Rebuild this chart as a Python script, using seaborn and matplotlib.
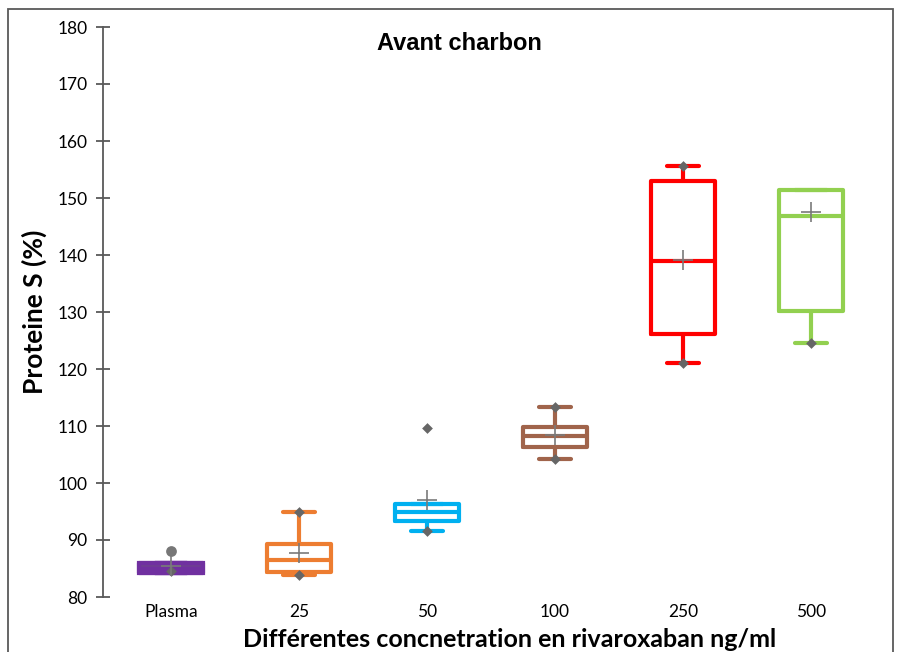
import seaborn as sns
import matplotlib.pyplot as plt
import pandas as pd
from matplotlib.patches import Rectangle

# five-number summaries (min, q1, median, q3, max)
categories = ['Plasma', '25', '50', '100', '250', '500']
box_plasma = [84.2, 84.2, 85.0, 86.0, 86.0]
box_25 = [83.9, 84.4, 86.5, 89.3, 94.9]
box_50 = [91.5, 93.4, 94.9, 96.3, 96.3]
box_100 = [104.2, 106.4, 108.2, 109.9, 113.3]
box_250 = [121.0, 126.1, 138.9, 153.0, 155.7]
box_500 = [124.6, 130.2, 146.9, 151.4, 151.4]

means = [85.4, 87.8, 97.0, 108.4, 139.2, 147.5]

# gray diamond points shown on the chart
point_cat = ['Plasma', '25', '25', '50', '50', '100', '100', '250', '250', '500']
point_val = [84.6, 94.9, 83.9, 91.5, 109.6, 113.3, 104.2, 155.7, 121.0, 124.6]
circle_cat = ['Plasma']
circle_val = [88.0]

colors = ['#7030A0', '#ED7D31', '#00B0F0', '#A0644B', '#FF0000', '#92D050']

boxes = [box_plasma, box_25, box_50, box_100, box_250, box_500]
df = pd.DataFrame({
    'cat': [c for c, b in zip(categories, boxes) for _ in b],
    'val': [v for b in boxes for v in b],
})

sns.set_style('white')
plt.rcParams['font.family'] = ['Lato', 'DejaVu Sans']
plt.rcParams['text.color'] = 'black'
plt.rcParams['axes.labelcolor'] = 'black'
plt.rcParams['xtick.color'] = 'black'
plt.rcParams['ytick.color'] = 'black'

fig = plt.figure(figsize=(8.99, 6.52), dpi=100)
ax = fig.add_axes([103 / 899, 55 / 652, 772 / 899, 570 / 652])

sns.boxplot(data=df, x='cat', y='val', hue='cat', order=categories,
            palette=colors, fill=False, linewidth=3, width=0.5, gap=0,
            whis=(0, 100), showfliers=False, legend=False, ax=ax)
# plasma box is so small it reads as a solid block
sns.boxplot(data=df[df['cat'] == 'Plasma'], x='cat', y='val', order=categories,
            color=colors[0], linecolor=colors[0], fill=True, linewidth=3,
            width=0.5, whis=(0, 100), showfliers=False, ax=ax)

sns.scatterplot(x=point_cat, y=point_val, marker='D', color='#666666',
                s=30, linewidth=0, zorder=5, ax=ax)
sns.scatterplot(x=circle_cat, y=circle_val, marker='o', color='#777777',
                s=60, linewidth=0, zorder=5, ax=ax)
sns.scatterplot(x=categories, y=means, marker='+', color='#7a7a7a',
                s=220, linewidth=1.2, zorder=6, ax=ax)

ax.set_ylim(80, 180)
ax.set_xlim(-0.53, 5.5)
ax.set_yticks(range(80, 181, 10))
for s in ['top', 'right', 'bottom']:
    ax.spines[s].set_visible(False)
ax.spines['left'].set_color('#595959')
ax.spines['left'].set_linewidth(1.3)
ax.tick_params(axis='y', direction='inout', length=10, width=1.3,
               color='#595959', labelcolor='black', labelsize=12.5, pad=6,
               left=True)
ax.tick_params(axis='x', length=0, labelsize=12.5, pad=5, labelcolor='black')

ax.set_xlabel('Différentes concnetration en rivaroxaban ng/ml',
              fontsize=18, fontweight='bold')
ax.xaxis.set_label_coords(0.527, -0.055)
ax.set_ylabel('Proteine S (%)', fontsize=19, fontweight='bold')
ax.yaxis.set_label_coords(-0.073, 0.5)

fig.text(459 / 899, 1 - 44 / 652, 'Avant charbon', ha='center', va='center',
         fontsize=17, fontweight='bold', fontfamily='Liberation Sans')

fig.patches.append(Rectangle((8 / 899, -0.01), 885 / 899, 1 - 9 / 652 + 0.01,
                             transform=fig.transFigure, fill=False,
                             edgecolor='#595959', linewidth=1.3))

fig.savefig('out.png', dpi=100)
